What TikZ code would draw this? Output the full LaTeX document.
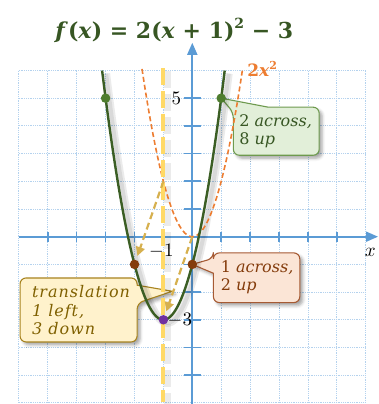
\documentclass[tikz,border=0pt]{standalone}
\usepackage{fontspec}
\newfontfamily\dvs{DejaVu Serif}
\newfontfamily\dvsw[LetterSpace=6]{DejaVu Serif}
\usetikzlibrary{arrows.meta,shadows.blur}
\definecolor{gcurve}{HTML}{3B5E24}
\definecolor{gdot}{HTML}{4E7D2E}
\definecolor{gtext}{HTML}{375623}
\definecolor{gfill}{HTML}{E2EFD9}
\definecolor{gborder}{HTML}{6E9A4E}
\definecolor{bdot}{HTML}{843C0C}
\definecolor{btext}{HTML}{843C0C}
\definecolor{bfill}{HTML}{FBE5D6}
\definecolor{bborder}{HTML}{A65A33}
\definecolor{yfill}{HTML}{FFF2CC}
\definecolor{yborder}{HTML}{A88420}
\definecolor{ytext}{HTML}{7F6000}
\definecolor{orangec}{HTML}{ED7D31}
\definecolor{yline}{HTML}{FFD966}
\definecolor{tanc}{HTML}{D6B04E}
\definecolor{purp}{HTML}{7030A0}
\definecolor{axisc}{HTML}{5B9BD5}
\definecolor{gridc}{HTML}{B4D2EE}
\newcommand{\calfont}{\dvs\fontsize{16}{18.5}\selectfont}
\newcommand{\calfontw}{\dvsw\fontsize{16}{18.5}\selectfont}
\begin{document}
\begin{tikzpicture}[x=28.9pt,y=27.7pt,
  gridline/.style={gridc, densely dotted, line width=0.8pt},
  axisline/.style={axisc, line width=1.8pt, -{Triangle[length=12pt,width=10pt]}},
  ticksty/.style={axisc, line width=1.6pt},
  dotnode/.style={circle, inner sep=0pt, minimum size=9.5pt},
  boxshadow/.style={blur shadow={shadow xshift=3pt, shadow yshift=-3pt, shadow blur radius=3pt, shadow opacity=35}},
  gbox/.style={fill=gfill, draw=gborder, line width=1.1pt, boxshadow},
  bbox/.style={fill=bfill, draw=bborder, line width=1.1pt, boxshadow},
  ybox/.style={fill=yfill, draw=yborder, line width=1.1pt, boxshadow},
  greencurve/.style={gcurve, line width=2.4pt},
  orangecurve/.style={orangec, line width=1.6pt, dash pattern=on 5pt off 3pt},
  symline/.style={yline, line width=4pt, dash pattern=on 17pt off 6pt},
  tanarrow/.style={tanc, line width=2.2pt, dash pattern=on 7pt off 4pt, -{Triangle[length=9pt,width=9pt]}, shorten >=4pt},
  softshadow/.style={black, opacity=0.08}
]
\useasboundingbox (-6.654,-6.040) rectangle (6.426,8.545);
% grid
\foreach \i in {-6,...,6} {
  \draw[gridline] (\i,-6) -- (\i,6);
  \draw[gridline] (-6,\i) -- (6,\i);
}
% axes
\draw[axisline] (-6,0) -- (6.426,0);
\draw[axisline] (0,-6.04) -- (0,7.0);
\foreach \i in {-5,...,-1,1,2,...,5} {
  \draw[ticksty] (\i,-0.18) -- (\i,0.18);
  \draw[ticksty] (-0.3,\i) -- (0.3,\i);
}
% callouts
\draw[gbox] (2.63,4.675) [rounded corners=6pt] -- (4.39,4.675) -- (4.39,2.94) -- (1.42,2.94) -- (1.42,4.49) [sharp corners] -- (1,5) -- cycle;
\draw[bbox] (0.73,-1.32) [rounded corners=6pt] -- (0.73,-2.38) -- (3.72,-2.38) -- (3.72,-0.585) -- (0.73,-0.585) -- (0.73,-0.78) [sharp corners] -- (0,-1) -- cycle;
\draw[ybox] (-1.91,-1.75) [rounded corners=6pt] -- (-1.91,-1.49) -- (-5.96,-1.49) -- (-5.96,-3.80) -- (-1.91,-3.80) -- (-1.91,-2.40) [sharp corners] -- (-0.69,-1.97) -- cycle;
\node[anchor=west, align=left, text=gtext, font=\calfont, inner sep=0pt] (gt) at (1.62,3.81) {2 \textit{across,}\\8 \textit{up}};
\node[anchor=west, align=left, text=btext, font=\calfont, inner sep=0pt] (bt) at (0.98,-1.47) {1 \textit{across,}\\2 \textit{up}};
\node[anchor=west, align=left, text=ytext, font=\calfontw, inner sep=0pt] (yt) at (-5.55,-2.65) {\textit{translation}\\\textit{1 left,}\\\textit{3 down}};
% shadows of curves
\begin{scope}[transform canvas={xshift=4pt,yshift=-3pt}]
  \draw[softshadow, line width=8pt] plot[domain=-3.121:1.121, samples=80] (\x,{2*(\x+1)*(\x+1)-3});
  \draw[softshadow, line width=4pt] plot[domain=-3.121:1.121, samples=80] (\x,{2*(\x+1)*(\x+1)-3});
  \draw[softshadow, line width=7pt, dash pattern=on 17pt off 6pt] (-1,6.08) -- (-1,-5.95);
\end{scope}
% curves
\draw[orangecurve] plot[domain=-1.74:1.74, samples=80] (\x,{2*\x*\x});
\draw[symline] (-1,6.08) -- (-1,-5.95);
\draw[greencurve] plot[domain=-3.121:1.121, samples=100] (\x,{2*(\x+1)*(\x+1)-3});
% points
\coordinate (o) at (0,0);
\coordinate (p1) at (-1,2);
\node[dotnode, fill=gdot] (g1) at (-3,5) {};
\node[dotnode, fill=gdot] (g2) at (1,5) {};
\node[dotnode, fill=bdot] (b1) at (-2,-1) {};
\node[dotnode, fill=bdot] (b2) at (0,-1) {};
\node[dotnode, fill=purp] (v) at (-1,-3) {};
% translation arrows
\draw[tanarrow] (p1) -- (b1);
\draw[tanarrow] (o) -- (v);
% labels
\node (l5) at (-0.55,5) {\scalebox{1.9}{$5$}};
\node (lm3) at (-0.43,-3) {\scalebox{1.9}{$-3$}};
\node (lm1) at (-1.07,-0.51) {\scalebox{1.9}{$-1$}};
\node (xl) at (6.16,-0.56) {\scalebox{1.9}{$x$}};
\node[text=orangec, font={\dvs\bfseries\fontsize{17}{20}\selectfont}] (lab) at (2.42,6.05) {2\textit{x}\raisebox{0.42em}{\fontsize{11}{11}\selectfont 2}};
\node[text=gtext, font={\dvs\bfseries\fontsize{22}{26}\selectfont}] (title) at (-0.62,7.45) {\textit{f}(\textit{x}) = 2(\textit{x} + 1)\raisebox{0.42em}{\fontsize{14}{14}\selectfont 2} − 3};
\end{tikzpicture}
\end{document}
